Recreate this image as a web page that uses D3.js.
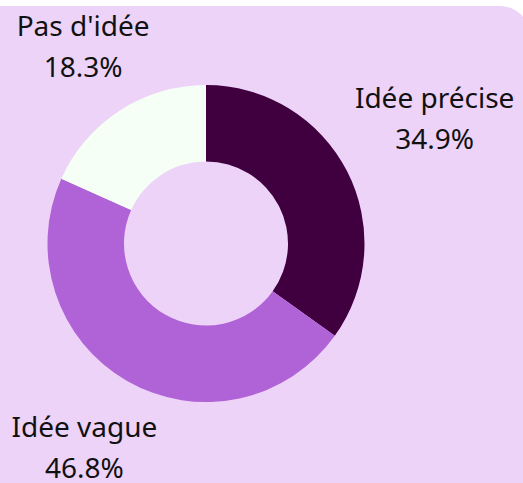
<!DOCTYPE html>
<html>
<head>
<meta charset="utf-8">
<script src="https://cdn.jsdelivr.net/npm/d3@7"></script>
<style>
  html, body { margin: 0; padding: 0; background: #ffffff; }
  svg { display: block; }
</style>
</head>
<body>
<svg id="chart" width="523" height="483"></svg>
<script>
// Donut: "Idée précise / Idée vague / Pas d'idée" shares
const categories = ["Idée précise", "Idée vague", "Pas d'idée"];
const values = [34.9, 46.8, 18.3];
const colors = ["#400040", "#b063d6", "#f5fff5"];

const W = 523, H = 483;
const cx = 206, cy = 243.5;
const outerR = 158.5, innerR = 82;
// label distance from centre, per slice (tuned by eye)
const labelR = [257, 244, 226];

const svg = d3.select('#chart');

// panel with rounded top-right corner
const panelTop = 6, rr = 30, panelRight = 530;
svg.append('path')
  .attr('d', `M0,${panelTop} H${panelRight - rr} A${rr},${rr} 0 0 1 ${panelRight},${panelTop + rr} V${H + 10} H0 Z`)
  .attr('fill', '#edd3f8');

const pie = d3.pie().sort(null).value(d => d);
const arcs = pie(values);
const arc = d3.arc().innerRadius(innerR).outerRadius(outerR);

const g = svg.append('g').attr('transform', `translate(${cx},${cy})`);
g.selectAll('path.slice').data(arcs).enter().append('path')
  .attr('class', 'slice')
  .attr('d', arc)
  .attr('fill', (d, i) => colors[i]);

const lab = g.selectAll('g.lab').data(arcs).enter().append('g')
  .attr('class', 'lab')
  .attr('transform', (d, i) => {
    const c = d3.arc().innerRadius(labelR[i]).outerRadius(labelR[i]).centroid(d);
    return `translate(${c[0]},${c[1]})`;
  });
lab.append('text')
  .attr('text-anchor', 'middle')
  .attr('y', -18)
  .style('font-family', "'Noto Sans', sans-serif")
  .style('font-size', '28px')
  .attr('fill', '#111')
  .text((d, i) => categories[i]);
lab.append('text')
  .attr('text-anchor', 'middle')
  .attr('y', 23)
  .style('font-family', "'Noto Sans', sans-serif")
  .style('font-size', '28px')
  .attr('fill', '#111')
  .text((d, i) => values[i].toFixed(1) + '%');
</script>
</body>
</html>
